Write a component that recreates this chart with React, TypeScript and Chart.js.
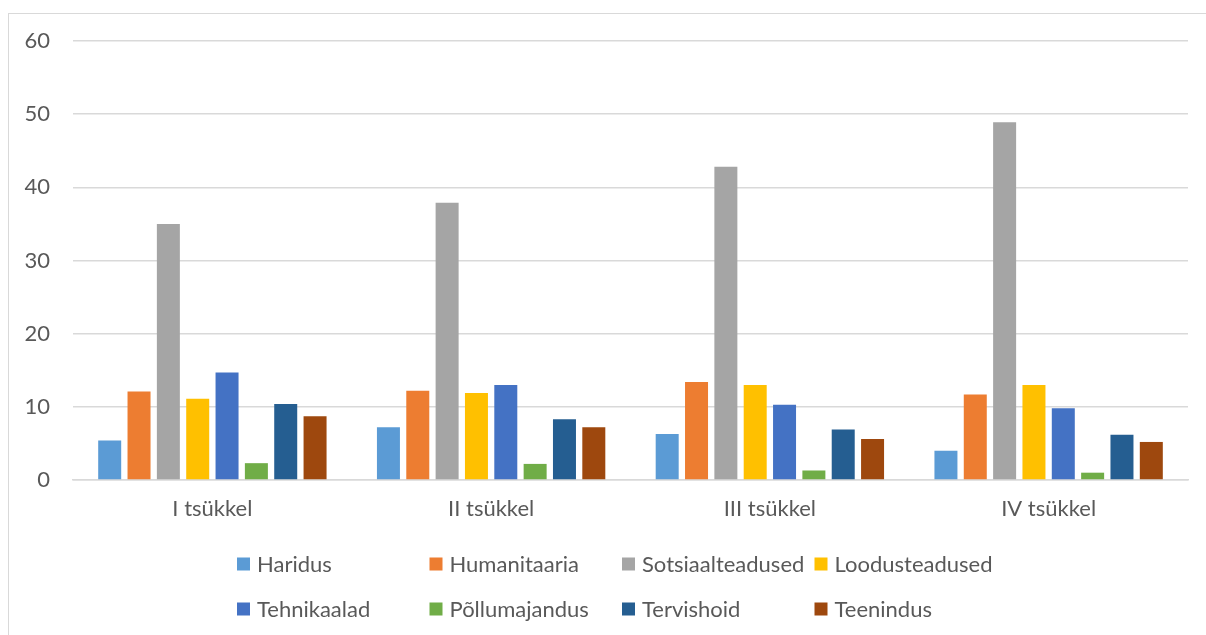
import React, { useEffect, useRef } from "react";
import { Chart, registerables } from "chart.js";

Chart.register(...registerables);

const categories = ["I tsükkel", "II tsükkel", "III tsükkel", "IV tsükkel"];
const seriesNames = [
  "Haridus",
  "Humanitaaria",
  "Sotsiaalteadused",
  "Loodusteadused",
  "Tehnikaalad",
  "Põllumajandus",
  "Tervishoid",
  "Teenindus",
];
const haridus = [5.4, 7.2, 6.3, 4.0];
const humanitaaria = [12.1, 12.2, 13.4, 11.7];
const sotsiaalteadused = [35.0, 37.9, 42.8, 48.9];
const loodusteadused = [11.1, 11.9, 13.0, 13.0];
const tehnikaalad = [14.7, 13.0, 10.3, 9.8];
const pollumajandus = [2.3, 2.2, 1.3, 1.0];
const tervishoid = [10.4, 8.3, 6.9, 6.2];
const teenindus = [8.7, 7.2, 5.6, 5.2];
const seriesValues = [
  haridus,
  humanitaaria,
  sotsiaalteadused,
  loodusteadused,
  tehnikaalad,
  pollumajandus,
  tervishoid,
  teenindus,
];
const colors = [
  "#5B9BD5",
  "#ED7D31",
  "#A5A5A5",
  "#FFC000",
  "#4472C4",
  "#70AD47",
  "#255E91",
  "#9E480E",
];
const yTicks = [0, 10, 20, 30, 40, 50, 60];

const FONT = "Lato";
const TEXT = "#595959";

const gridLegend = {
  id: "gridLegend",
  afterDraw(chart: any) {
    const ctx = chart.ctx;
    const ds = chart.data.datasets;
    ctx.save();
    ctx.font = `22px ${FONT}`;
    ctx.fillStyle = TEXT;
    ctx.textBaseline = "middle";
    ctx.textAlign = "left";
    const x0 = 237;
    const colW = 192.5;
    const rows = [564, 609];
    ds.forEach((d: any, i: number) => {
      const col = i % 4;
      const row = Math.floor(i / 4);
      const x = x0 + col * colW;
      const y = rows[row];
      ctx.fillStyle = d.backgroundColor;
      ctx.fillRect(x, y - 6.5, 13, 13);
      ctx.fillStyle = TEXT;
      ctx.fillText(d.label, x + 20, y + 1);
    });
    ctx.restore();
  },
};

export default function App() {
  const ref = useRef<HTMLCanvasElement | null>(null);
  useEffect(() => {
    if (!ref.current) return;
    const chart = new Chart(ref.current, {
      type: "bar",
      data: {
        labels: categories,
        datasets: seriesNames.map((name, i) => ({
          label: name,
          data: seriesValues[i],
          backgroundColor: colors[i],
          borderWidth: 0,
          categoryPercentage: 0.842,
          barPercentage: 0.784,
        })),
      },
      options: {
        animation: false,
        responsive: false,
        maintainAspectRatio: false,
        layout: { padding: { top: 41, right: 18, left: 0, bottom: 0 } },
        plugins: {
          legend: { display: false },
          tooltip: { enabled: false },
        },
        scales: {
          x: {
            grid: { display: false, drawTicks: false },
            border: { display: true, color: "#d9d9d9", width: 1.5 },
            ticks: {
              color: TEXT,
              font: { family: FONT, size: 22 },
              padding: 16,
            },
            afterFit(scale: any) {
              scale.height = 155;
            },
          },
          y: {
            min: 0,
            max: 60,
            afterBuildTicks(scale: any) {
              scale.ticks = yTicks.map((v) => ({ value: v }));
            },
            grid: { color: "#d9d9d9", lineWidth: 1.5, drawTicks: false },
            border: { display: false },
            ticks: {
              color: TEXT,
              font: { family: FONT, size: 22 },
              padding: 23,
            },
            afterFit(scale: any) {
              scale.width = 73;
            },
          },
        },
      },
      plugins: [gridLegend],
    });
    return () => chart.destroy();
  }, []);
  return (
    <>
      <div
        style={{
          position: "absolute",
          left: 8,
          top: 13,
          width: 1198,
          height: 622,
          borderTop: "1px solid #d9d9d9",
          borderLeft: "1px solid #d9d9d9",
          boxSizing: "border-box",
        }}
      />
      <canvas
        ref={ref}
        width={1206}
        height={635}
        style={{ position: "absolute", left: 0, top: 0, width: 1206, height: 635 }}
      />
    </>
  );
}
